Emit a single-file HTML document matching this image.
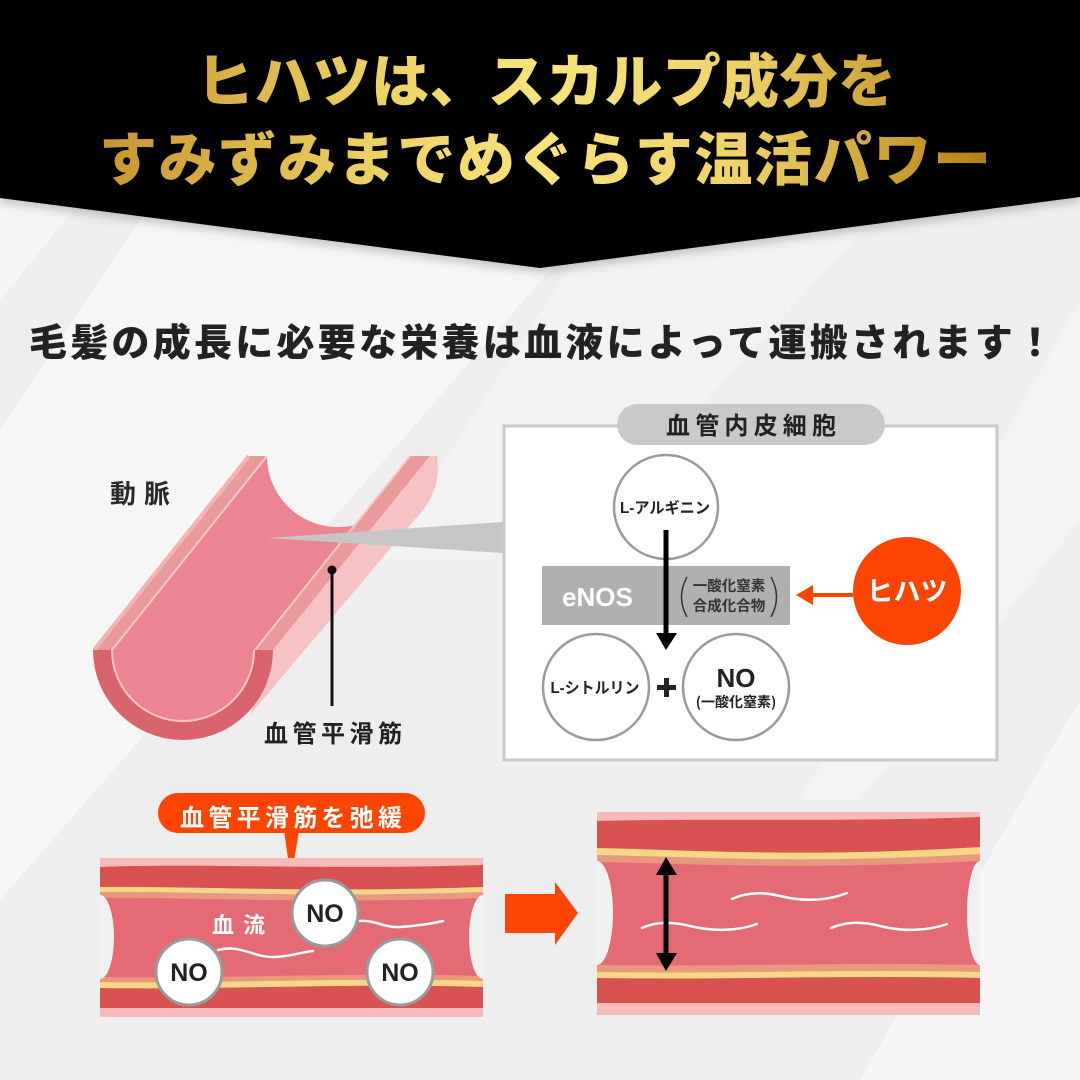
<!DOCTYPE html>
<html><head><meta charset="utf-8">
<style>
html,body{margin:0;padding:0;width:1080px;height:1080px;overflow:hidden;background:#efefef}
svg{display:block}
text{font-family:"Liberation Sans","Noto Sans CJK JP",sans-serif;}
.jp{font-family:"Noto Sans CJK JP","Liberation Sans",sans-serif;}
</style></head><body>
<svg width="1080" height="1080" viewBox="0 0 1080 1080" xmlns="http://www.w3.org/2000/svg">
<defs>
<linearGradient id="gold" x1="100" y1="0" x2="990" y2="0" gradientUnits="userSpaceOnUse">
<stop offset="0" stop-color="#c8952e"/>
<stop offset="0.3" stop-color="#ecd062"/>
<stop offset="0.5" stop-color="#f8e47c"/>
<stop offset="0.72" stop-color="#eed268"/>
<stop offset="1" stop-color="#b47f12"/>
</linearGradient>
<filter id="sh" x="-5%" y="-5%" width="110%" height="130%"><feDropShadow dx="0" dy="4" stdDeviation="5" flood-color="#000" flood-opacity="0.22"/></filter>
<clipPath id="cl1"><rect x="100" y="858" width="383" height="159"/></clipPath>
<clipPath id="cl2"><rect x="597" y="812" width="383" height="203"/></clipPath>
</defs>

<!-- background -->
<rect x="0" y="0" width="1080" height="1080" fill="#eeeeee"/>
<polygon points="160,190 620,190 0,900 0,430" fill="#ffffff" opacity="0.45"/>
<polygon points="0,190 90,190 0,300" fill="#ffffff" opacity="0.4"/>
<polygon points="620,190 900,190 560,560 380,560" fill="#ffffff" opacity="0.25"/>
<polygon points="1080,300 1080,520 860,800 800,800" fill="#ffffff" opacity="0.3"/>
<polygon points="1080,700 1080,1080 860,1080" fill="#ffffff" opacity="0.4"/>

<!-- header -->
<path d="M0 0 H1080 V197 L540 268 L0 198 Z" fill="#000" filter="url(#sh)"/>
<text class="jp" x="196" y="102" font-size="58" font-weight="900" fill="url(#gold)" textLength="700" lengthAdjust="spacing">ヒハツは、スカルプ成分を</text>
<text class="jp" x="99" y="180" font-size="58" font-weight="900" fill="url(#gold)" textLength="892" lengthAdjust="spacing">すみずみまでめぐらす温活パワー</text>

<!-- subtitle -->
<text class="jp" x="29" y="356" font-size="38" font-weight="900" fill="#222" textLength="1025" lengthAdjust="spacing">毛髪の成長に必要な栄養は血液によって運搬されます！</text>

<!-- artery -->
<text class="jp" x="110" y="503" font-size="26" font-weight="700" fill="#2a2a2a" textLength="60" lengthAdjust="spacing">動脈</text>
<path d="M273 650 L430 456 L437 456 C441 482 432 502 416 518 L250 715 Z" fill="#f5c3c3"/>
<path d="M93 650 L248 456 L267 456 L112 650 Z" fill="#e99a9a"/>
<line x1="94" y1="650" x2="249" y2="456" stroke="#f2b4b4" stroke-width="4"/>
<path d="M255 650 L410 456 L430 456 L273 650 Z" fill="#e99a9a"/>
<path d="M112 650 L267 456 A71 71 0 0 0 355 525 L255 650 A71 71 0 0 1 112 650 Z" fill="#ec8591"/>
<line x1="112" y1="650" x2="267" y2="456" stroke="#f6c9c9" stroke-width="2"/>
<line x1="255" y1="650" x2="410" y2="456" stroke="#f6c9c9" stroke-width="2"/>
<path d="M93 650 L112 650 A71 71 0 0 0 254 650 L273 650 A90 90 0 0 1 93 650 Z" fill="#d9646b"/>
<path d="M112 650 A71 71 0 0 0 254 650" fill="none" stroke="#f6c9c9" stroke-width="2"/>
<polygon points="267,538 503,522 503,553" fill="#c6c6c6"/>
<circle cx="332" cy="570" r="4.5" fill="#111"/>
<line x1="332" y1="570" x2="332" y2="706" stroke="#111" stroke-width="3"/>
<text class="jp" x="264" y="742" font-size="24" font-weight="700" fill="#222" textLength="138" lengthAdjust="spacing">血管平滑筋</text>

<!-- diagram box -->
<rect x="504" y="426" width="493" height="334" fill="#fff" stroke="#c9c9c9" stroke-width="3"/>
<rect x="617" y="404" width="268" height="41" rx="20.5" fill="#c9c9c9"/>
<text class="jp" x="751" y="434" font-size="24" font-weight="700" fill="#222" text-anchor="middle" textLength="170" lengthAdjust="spacing">血管内皮細胞</text>

<circle cx="666" cy="507" r="52" fill="#fff" stroke="#9a9a9a" stroke-width="2.5"/>
<text x="665" y="513" font-size="15.5" font-weight="700" fill="#222" text-anchor="middle" textLength="90" lengthAdjust="spacingAndGlyphs">L-アルギニン</text>

<rect x="542" y="566" width="248" height="59" fill="#b0b0b0"/>
<text x="562" y="606" font-size="26" font-weight="700" fill="#fff">eNOS</text>
<path d="M687 577 Q676 597 687 617" fill="none" stroke="#333" stroke-width="1.5"/>
<path d="M771 577 Q782 597 771 617" fill="none" stroke="#333" stroke-width="1.5"/>
<text class="jp" x="729" y="591" font-size="14.5" font-weight="700" fill="#333" text-anchor="middle">一酸化窒素</text>
<text class="jp" x="729" y="611" font-size="14.5" font-weight="700" fill="#333" text-anchor="middle">合成化合物</text>

<line x1="666" y1="530" x2="666" y2="636" stroke="#000" stroke-width="5"/>
<polygon points="656,633 677,633 666,650" fill="#000"/>

<circle cx="596" cy="687" r="53" fill="#fff" stroke="#9a9a9a" stroke-width="2.5"/>
<text x="595" y="693" font-size="15.5" font-weight="700" fill="#222" text-anchor="middle" textLength="89" lengthAdjust="spacingAndGlyphs">L-シトルリン</text>
<rect x="657" y="685" width="19" height="5" fill="#222"/>
<rect x="664" y="678" width="5" height="19" fill="#222"/>
<circle cx="736" cy="687" r="53" fill="#fff" stroke="#9a9a9a" stroke-width="2.5"/>
<text x="736" y="687" font-size="26" font-weight="700" fill="#222" text-anchor="middle">NO</text>
<text class="jp" x="736" y="707" font-size="14" font-weight="700" fill="#222" text-anchor="middle">(一酸化窒素)</text>

<circle cx="907" cy="591" r="54" fill="#fc4503"/>
<text class="jp" x="907" y="601" font-size="27" font-weight="700" fill="#fff" text-anchor="middle">ヒハツ</text>
<line x1="853" y1="595" x2="810" y2="595" stroke="#fc4503" stroke-width="4"/>
<polygon points="796,595 813,585 813,605" fill="#fc4503"/>

<!-- bottom left vessel -->
<rect x="158" y="793" width="267" height="40" rx="20" fill="#fc4503"/>
<polygon points="284,830 299,830 291,880" fill="#fc4503"/>
<text class="jp" x="291" y="826" font-size="24" font-weight="700" fill="#fff" text-anchor="middle" textLength="222" lengthAdjust="spacing">血管平滑筋を弛緩</text>

<g clip-path="url(#cl1)">
<rect x="100" y="858" width="383" height="159" fill="#f5bbbb"/>
<path d="M100 867 C200 863 330 870 483 865 L483 1008 L100 1008 Z" fill="#d95252"/>
<path d="M100 887 C200 886 300 893 483 887 L483 987 C350 983 220 990 100 988 Z" fill="#f5d887"/>
<path d="M100 892 C200 891 300 898 483 892 L483 981 C350 977 220 984 100 982 Z" fill="#e9977d"/>
<path d="M100 898 C200 897 300 904 483 898 L483 976 C350 972 220 979 100 977 Z" fill="#e46a74"/>
<ellipse cx="100" cy="937" rx="14" ry="42" fill="#f0f0f0"/>
<ellipse cx="483" cy="937" rx="14" ry="42" fill="#f0f0f0"/>
</g>
<text class="jp" x="212" y="933" font-size="22" font-weight="700" fill="#fff" textLength="53" lengthAdjust="spacing">血流</text>
<path d="M218 950 C240 944 255 958 275 957 S300 952 313 951" fill="none" stroke="#fff" stroke-width="2.5" stroke-linecap="round"/>
<path d="M360 921 C375 920 385 928 400 927 S430 924 443 921" fill="none" stroke="#fff" stroke-width="2.5" stroke-linecap="round"/>
<g fill="#fff" stroke="#9a9a9a" stroke-width="3">
<circle cx="325" cy="913" r="33"/>
<circle cx="189" cy="972" r="33"/>
<circle cx="400" cy="972" r="33"/>
</g>
<g font-size="25" font-weight="700" fill="#222" text-anchor="middle">
<text x="325" y="922">NO</text>
<text x="189" y="981">NO</text>
<text x="400" y="981">NO</text>
</g>

<!-- arrow -->
<rect x="505" y="894" width="51" height="39" fill="#fc4503"/>
<polygon points="555,882 578,913 555,945" fill="#fc4503"/>

<!-- bottom right vessel -->
<g clip-path="url(#cl2)">
<rect x="597" y="812" width="383" height="203" fill="#f5bbbb"/>
<path d="M597 821 C700 818 850 822 980 817 L980 1003 L597 1003 Z" fill="#d95252"/>
<path d="M597 848 C700 850 800 858 980 847 L980 978 C850 975 720 980 597 978 Z" fill="#f5d887"/>
<path d="M597 855 C700 857 800 864 980 854 L980 972 C850 969 720 974 597 972 Z" fill="#e9977d"/>
<path d="M597 862 C700 864 800 870 980 861 L980 965 C850 962 720 967 597 965 Z" fill="#e46a74"/>
<ellipse cx="597" cy="913" rx="16" ry="52" fill="#f0f0f0"/>
<ellipse cx="980" cy="913" rx="13" ry="52" fill="#f0f0f0"/>
</g>
<path d="M642 928 C655 922 670 921 690 926 S735 932 757 924" fill="none" stroke="#fff" stroke-width="2.5" stroke-linecap="round"/>
<path d="M732 899 C745 893 760 891 780 896 S825 902 847 893" fill="none" stroke="#fff" stroke-width="2.5" stroke-linecap="round"/>
<path d="M831 928 C845 922 860 921 880 926 S925 932 947 924" fill="none" stroke="#fff" stroke-width="2.5" stroke-linecap="round"/>
<line x1="666" y1="872" x2="666" y2="956" stroke="#000" stroke-width="5"/>
<polygon points="666,857 656,875 677,875" fill="#000"/>
<polygon points="666,971 656,953 677,953" fill="#000"/>
</svg>
</body></html>
